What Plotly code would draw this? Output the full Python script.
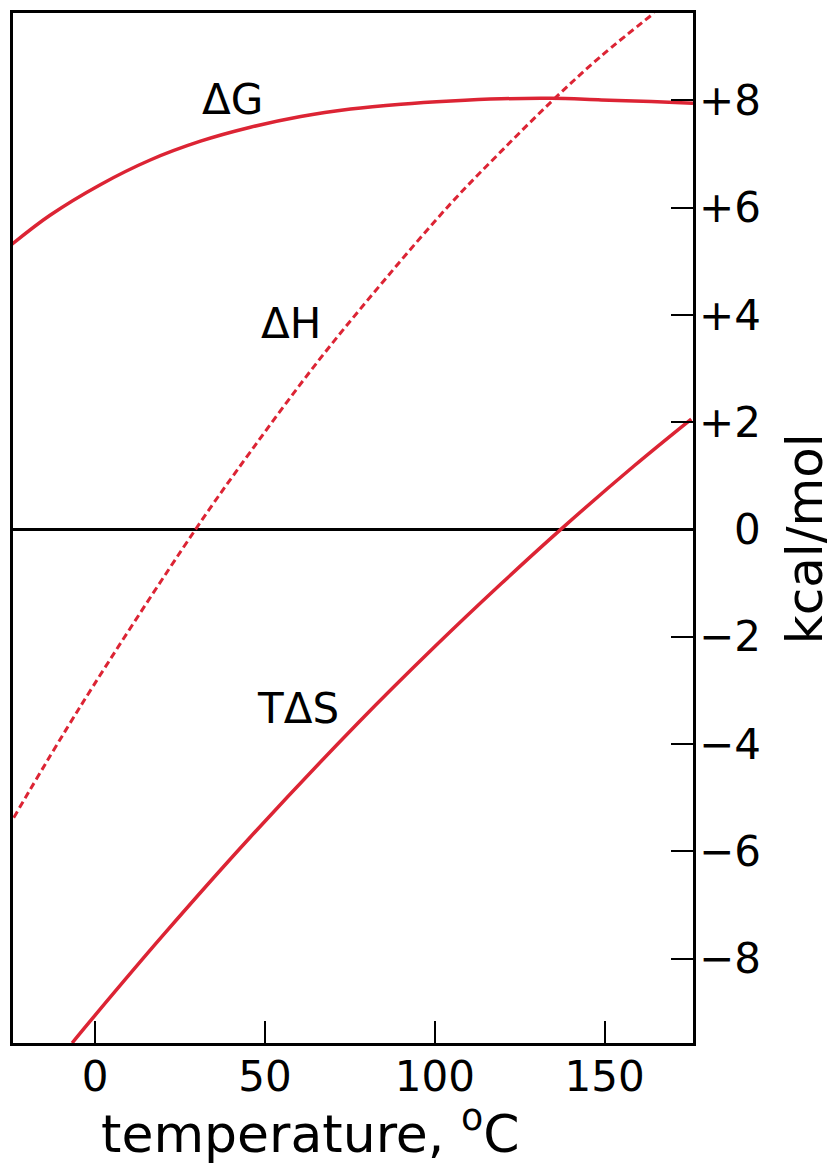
import plotly.graph_objects as go

# ---- data ----
temp_dG = [-24.5, -13.3, 1.5, 16.2, 31.0, 45.7, 60.5, 75.2, 90.0, 104.7, 119.5, 134.2, 149.0, 163.7, 176]
dG = [5.32, 5.86, 6.43, 6.89, 7.24, 7.50, 7.70, 7.84, 7.93, 7.99, 8.03, 8.04, 8.01, 7.98, 7.95]

temp_dH = [-24, -4.4, 29.5, 45.7, 65.5, 85, 104.7, 119.5, 135, 149, 164.6]
dH = [-5.37, -3.30, 0.0, 1.45, 3.13, 4.64, 6.08, 7.05, 8.02, 8.83, 9.63]

temp_TdS = [-6.8, 0, 20, 45.7, 77.3, 100, 119.5, 137, 158.7, 175.5]
TdS = [-9.57, -9.05, -7.56, -5.73, -3.61, -2.18, -1.01, 0.0, 1.19, 2.06]

x_ticks = [0, 50, 100, 150]
y_ticks = [-8, -6, -4, -2, 0, 2, 4, 6, 8]
y_tick_text = ["\u22128", "\u22126", "\u22124", "\u22122", "0", "+2", "+4", "+6", "+8"]

curve_labels = ["\u0394G", "\u0394H", "T\u0394S"]
label_x = [40.4, 57.5, 59.6]
label_y = [8.01, 3.85, -3.33]

RED = "#dc2434"
FONT = "DejaVu Sans"

fig = go.Figure()
fig.add_trace(go.Scatter(x=temp_dG, y=dG, mode="lines",
                         line=dict(color=RED, width=3.5, shape="spline", smoothing=1.0)))
fig.add_trace(go.Scatter(x=temp_dH, y=dH, mode="lines",
                         line=dict(color=RED, width=3, dash="7px,4px", shape="spline", smoothing=1.0)))
fig.add_trace(go.Scatter(x=temp_TdS, y=TdS, mode="lines",
                         line=dict(color=RED, width=3.5, shape="spline", smoothing=1.0)))

annotations = []
for v, t in zip(y_ticks, y_tick_text):
    annotations.append(dict(x=1.103, xref="paper", y=v, yref="y", text=t, showarrow=False,
                            xanchor="right", yanchor="middle",
                            font=dict(family=FONT, size=42, color="black")))
for t, lx, ly in zip(curve_labels, label_x, label_y):
    annotations.append(dict(x=lx, y=ly, xref="x", yref="y", text=t, showarrow=False,
                            xanchor="center", yanchor="middle",
                            font=dict(family=FONT, size=42, color="black")))
annotations.append(dict(x=0.438, xref="paper", y=-0.119, yref="paper",
                        text="temperature, <sup>o</sup>C", showarrow=False,
                        xanchor="center", yanchor="bottom",
                        font=dict(family=FONT, size=52, color="black")))
annotations.append(dict(x=1.1647, xref="paper", y=0.49, yref="paper",
                        text="kcal/mol", textangle=-90, showarrow=False,
                        xanchor="center", yanchor="middle",
                        font=dict(family=FONT, size=50, color="black")))

fig.update_layout(
    width=827, height=1159,
    margin=dict(l=5, r=142, t=2, b=124),
    paper_bgcolor="white", plot_bgcolor="white",
    showlegend=False,
    font=dict(family=FONT, color="black"),
    annotations=annotations,
    xaxis=dict(range=[-24.2, 176], showline=True, linecolor="black", linewidth=2.5,
               mirror=True, ticks="inside", ticklen=22, tickwidth=2, tickcolor="black",
               tickvals=x_ticks, tickfont=dict(family=FONT, size=42, color="black"),
               ticklabelstandoff=-5, showgrid=False, zeroline=False),
    yaxis=dict(range=[-9.57, 9.63], side="right", showline=True, linecolor="black",
               linewidth=2.5, mirror=True, ticks="inside", ticklen=22, tickwidth=2,
               tickcolor="black", tickvals=y_ticks, showticklabels=False,
               showgrid=False, zeroline=True, zerolinecolor="black", zerolinewidth=2.5),
)

fig.write_html("out.html")
